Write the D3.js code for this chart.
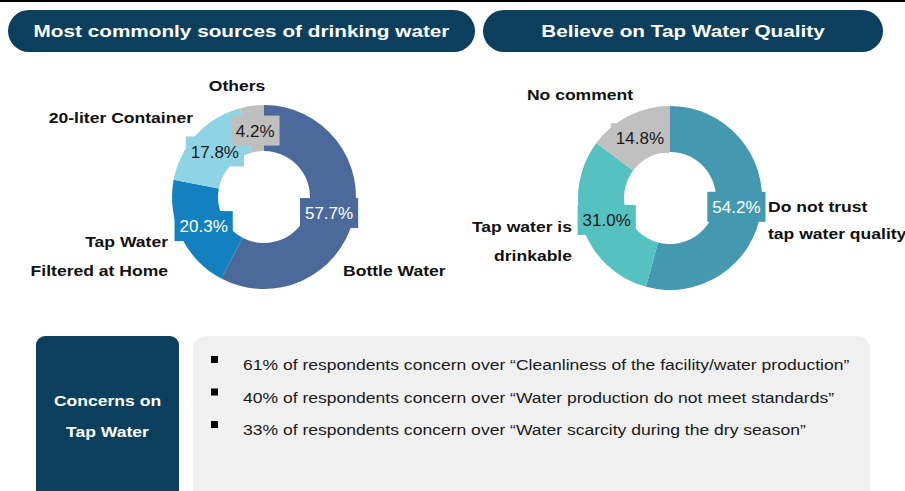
<!DOCTYPE html>
<html>
<head>
<meta charset="utf-8">
<script src="https://cdn.jsdelivr.net/npm/d3@7"></script>
<style>
  body { margin: 0; background: #fff; }
  svg { display: block; font-family: "Liberation Sans", Arial, sans-serif; }
</style>
</head>
<body>
<svg id="chart" width="905" height="491"></svg>
<script>
// data
const titles = ["Most commonly sources of drinking water", "Believe on Tap Water Quality"];

const sourceCategories = [["Bottle Water"], ["Tap Water", "Filtered at Home"], ["20-liter Container"], ["Others"]];
const sourceValues = [57.7, 20.3, 17.8, 4.2];

const trustCategories = [["Do not trust", "tap water quality"], ["Tap water is", "drinkable"], ["No comment"]];
const trustValues = [54.2, 31.0, 14.8];

const concernTitle = ["Concerns on", "Tap Water"];
const concernItems = [
    "61% of respondents concern over \u201cCleanliness of the facility/water production\u201d",
    "40% of respondents concern over \u201cWater production do not meet standards\u201d",
    "33% of respondents concern over \u201cWater scarcity during the dry season\u201d"
];

// styles / layout
const NAVY = "#0b3f5d";
const SX = 1.17; // source text is a bit wide
const sourceColors = ["#4b6a9b", "#1380c0", "#8fd4e5", "#bfbfbf"];
const sourceText = ["#fff", "#fff", "#1a1a1a", "#1a1a1a"];
const trustColors = ["#4499b0", "#55c1c1", "#c0c0c0"];
const trustText = ["#fff", "#1a1a1a", "#1a1a1a"];

// label placement relative to donut center: [anchor, dx, first baseline dy, line step]
const sourceLabelPos = [
    ["start", 79, 79, 29],
    ["end", -96, 50, 29],
    ["end", -71, -74, 29],
    ["middle", -27, -106, 29]
];
const trustLabelPos = [
    ["start", 98, 13.5, 27],
    ["end", -98, 33.5, 29.5],
    ["middle", -90, -98, 27]
];

const svg = d3.select("#chart");

svg.append("rect")
    .attr("x", 0).attr("y", 0)
    .attr("width", 905).attr("height", 2)
    .attr("fill", "#000");

function stretchedText(g, x, y, txt, anchor, sx = SX) {
    return g.append("text")
        .attr("transform", `translate(${x},${y}) scale(${sx},1)`)
        .attr("text-anchor", anchor)
        .text(txt);
}

function drawPill(x, w, title) {
    const g = svg.append("g");
    g.append("rect")
        .attr("x", x).attr("y", 10)
        .attr("width", w).attr("height", 42)
        .attr("rx", 21)
        .attr("fill", NAVY);
    stretchedText(g, x + w / 2, 37, title, "middle", 1.22)
        .attr("fill", "#fff")
        .attr("font-weight", "bold")
        .attr("font-size", 17);
}

drawPill(8, 467, titles[0]);
drawPill(483, 400, titles[1]);

function drawDonut(cx, cy, values, cats, colors, textColors, labelPos) {
    const g = svg.append("g").attr("transform", `translate(${cx},${cy})`);
    const pie = d3.pie().sort(null).value(d => d);
    const arcs = pie(values);
    const arc = d3.arc().innerRadius(46).outerRadius(92);
    const labelArc = d3.arc().innerRadius(67).outerRadius(67);

    g.selectAll("path.slice")
        .data(arcs)
        .join("path")
        .attr("class", "slice")
        .attr("d", arc)
        .attr("fill", (d, i) => colors[i]);

    const lab = g.selectAll("g.pct")
        .data(arcs)
        .join("g")
        .attr("class", "pct")
        .attr("transform", d => `translate(${labelArc.centroid(d)})`);

    lab.append("text")
        .attr("text-anchor", "middle")
        .attr("dy", "0.36em")
        .attr("font-size", 17)
        .attr("fill", (d, i) => textColors[i])
        .text(d => d3.format(".1f")(d.data) + "%");

    lab.insert("rect", "text")
        .each(function () {
            const w = this.parentNode.querySelector("text").getComputedTextLength();
            d3.select(this)
                .attr("x", -w / 2 - 5).attr("y", -15)
                .attr("width", w + 10).attr("height", 30);
        })
        .attr("fill", (d, i) => colors[i]);

    cats.forEach((lines, i) => {
        const [anchor, dx, dy, step] = labelPos[i];
        lines.forEach((line, j) => {
            stretchedText(g, dx, dy + j * step, line, anchor)
                .attr("font-weight", "bold")
                .attr("font-size", 15)
                .attr("fill", "#111");
        });
    });
}

drawDonut(264, 197, sourceValues, sourceCategories, sourceColors, sourceText, sourceLabelPos);
drawDonut(670, 198, trustValues, trustCategories, trustColors, trustText, trustLabelPos);

// concerns panel
const bottom = svg.append("g");
bottom.append("rect")
    .attr("x", 36).attr("y", 336)
    .attr("width", 143).attr("height", 170)
    .attr("rx", 9)
    .attr("fill", NAVY);

concernTitle.forEach((line, j) => {
    stretchedText(bottom, 107.5, 406 + j * 31, line, "middle")
        .attr("fill", "#fff")
        .attr("font-weight", "bold")
        .attr("font-size", 15);
});

bottom.append("rect")
    .attr("x", 193).attr("y", 336)
    .attr("width", 677).attr("height", 170)
    .attr("rx", 13)
    .attr("fill", "#f0f0f0");

const rowY = d3.scalePoint()
    .domain(d3.range(concernItems.length))
    .range([370, 435]);

concernItems.forEach((txt, i) => {
    const y = rowY(i);
    bottom.append("rect")
        .attr("x", 211).attr("y", y - 14)
        .attr("width", 7).attr("height", 7)
        .attr("fill", "#000");
    stretchedText(bottom, 243, y, txt, "start")
        .attr("font-size", 15)
        .attr("fill", "#1a1a1a");
});
</script>
</body>
</html>
